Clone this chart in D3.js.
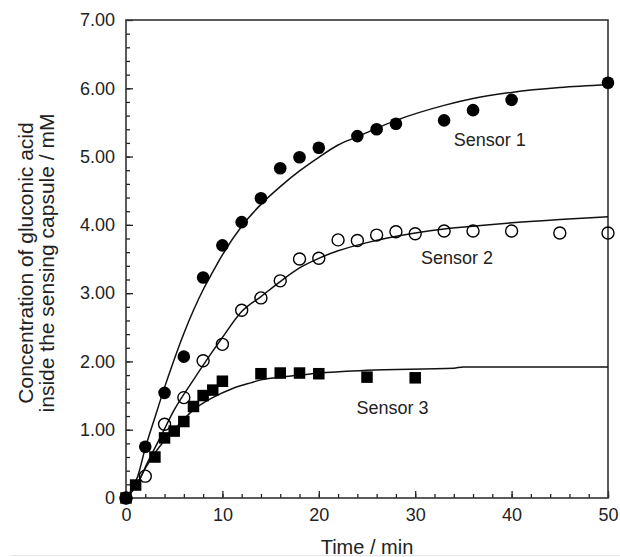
<!DOCTYPE html>
<html>
<head>
<meta charset="utf-8">
<script src="https://cdn.jsdelivr.net/npm/d3@7"></script>
<style>
  html, body { margin: 0; padding: 0; background: #fff; }
  svg { display: block; font-family: "Liberation Sans", Arial, Helvetica, sans-serif; }
</style>
</head>
<body>
<div id="wrapper"></div>
<script>
// measured points (time in min, concentration in mM)
const s1Time = [0, 2, 4, 6, 8, 10, 12, 14, 16, 18, 20, 24, 26, 28, 33, 36, 40, 50];
const s1Conc = [0, 0.75, 1.54, 2.07, 3.23, 3.70, 4.04, 4.39, 4.83, 4.99, 5.13, 5.30, 5.40, 5.48, 5.53, 5.68, 5.83, 6.08];

const s2Time = [0, 2, 4, 6, 8, 10, 12, 14, 16, 18, 20, 22, 24, 26, 28, 30, 33, 36, 40, 45, 50];
const s2Conc = [0, 0.32, 1.08, 1.47, 2.01, 2.25, 2.75, 2.93, 3.18, 3.50, 3.51, 3.78, 3.77, 3.85, 3.90, 3.87, 3.91, 3.91, 3.91, 3.88, 3.88];

const s3Time = [0, 1, 3, 4, 5, 6, 7, 8, 9, 10, 14, 16, 18, 20, 25, 30];
const s3Conc = [0, 0.19, 0.60, 0.88, 0.98, 1.12, 1.34, 1.50, 1.58, 1.71, 1.82, 1.83, 1.83, 1.82, 1.77, 1.76];

// fitted curves
const fit1Time = [0, 1.2, 2, 3, 4, 5, 6, 7, 8, 9, 10, 12, 14, 16, 18, 20, 22, 24, 28, 33, 36, 40, 45, 50];
const fit1Conc = [0, 0.31, 0.73, 1.18, 1.62, 2.03, 2.41, 2.75, 3.05, 3.31, 3.56, 3.98, 4.30, 4.56, 4.79, 4.99, 5.17, 5.29, 5.53, 5.75, 5.85, 5.94, 6.01, 6.05];

const fit2Time = [0, 1.2, 2.2, 3.6, 5, 7, 9, 10, 12, 14, 16, 18, 20, 22, 25, 30, 33, 36, 40, 45, 50];
const fit2Conc = [0, 0.21, 0.51, 0.90, 1.29, 1.73, 2.15, 2.35, 2.73, 2.95, 3.17, 3.37, 3.51, 3.62, 3.74, 3.88, 3.94, 3.98, 4.03, 4.08, 4.12];

const fit3Time = [0, 1, 1.9, 3.2, 5, 7, 9, 11, 13, 14, 16, 18, 20, 25, 34, 35, 50];
const fit3Conc = [0, 0.17, 0.41, 0.70, 1.00, 1.29, 1.47, 1.60, 1.69, 1.73, 1.77, 1.80, 1.83, 1.87, 1.90, 1.92, 1.92];

const xMajorTicks = [0, 10, 20, 30, 40, 50];
const yMajorTicks = [0, 1, 2, 3, 4, 5, 6, 7];

const sensorNames = ["Sensor 1", "Sensor 2", "Sensor 3"];
const sensorLabelTime = [34.0, 30.6, 23.9];
const sensorLabelConc = [5.15, 3.43, 1.23];

function drawChart() {
    let dimensions = {
        width: 620,
        height: 557,
        margin: { top: 20, right: 12, bottom: 59, left: 126 }
    };
    dimensions.boundedWidth = dimensions.width - dimensions.margin.left - dimensions.margin.right;
    dimensions.boundedHeight = dimensions.height - dimensions.margin.top - dimensions.margin.bottom;

    const ink = "#222";

    const svg = d3.select("#wrapper")
        .append("svg")
            .attr("width", dimensions.width)
            .attr("height", dimensions.height);

    // faint line along the bottom of the scanned figure
    svg.append("line")
        .attr("x1", 10).attr("x2", dimensions.width)
        .attr("y1", 555.5).attr("y2", 555.5)
        .attr("stroke", "#e6e6e6")
        .attr("stroke-width", 1);

    const bounds = svg.append("g")
        .attr("transform", `translate(${dimensions.margin.left},${dimensions.margin.top})`);

    const xScale = d3.scaleLinear()
        .domain([0, 50])
        .range([0, dimensions.boundedWidth]);
    const yScale = d3.scaleLinear()
        .domain([0, 7])
        .range([dimensions.boundedHeight, 0]);

    // minor ticks
    bounds.append("g")
        .attr("transform", `translate(0,${dimensions.boundedHeight})`)
        .call(d3.axisBottom(xScale).tickValues(d3.range(0, 51, 2)).tickSize(-4).tickFormat(""))
        .call(g => g.select(".domain").remove());
    bounds.append("g")
        .call(d3.axisLeft(yScale).tickValues(d3.range(0, 35, 1).map(d => d / 5)).tickSize(-4).tickFormat(""))
        .call(g => g.select(".domain").remove());

    // major ticks + labels
    const xAxis = bounds.append("g")
        .attr("transform", `translate(0,${dimensions.boundedHeight})`)
        .call(d3.axisBottom(xScale).tickValues(xMajorTicks).tickSize(-7).tickPadding(10).tickFormat(d3.format("d")));
    xAxis.select(".domain").remove();

    const yAxis = bounds.append("g")
        .call(d3.axisLeft(yScale).tickValues(yMajorTicks).tickSize(-7).tickPadding(11)
            .tickFormat(d => d === 0 ? "0" : d3.format(".2f")(d)));
    yAxis.select(".domain").remove();

    bounds.selectAll(".tick line").attr("stroke", ink).attr("stroke-width", 1.3);
    bounds.selectAll(".tick text").attr("fill", ink).style("font-size", "18px")
        .style("font-family", "'Liberation Sans', Arial, sans-serif");

    // frame
    bounds.append("rect")
        .attr("x", 0).attr("y", 0)
        .attr("width", dimensions.boundedWidth)
        .attr("height", dimensions.boundedHeight)
        .attr("fill", "none")
        .attr("stroke", "#333")
        .attr("stroke-width", 1.6);

    // fitted curves
    const line = d3.line()
        .x(d => xScale(d[0]))
        .y(d => yScale(d[1]))
        .curve(d3.curveMonotoneX);
    [[fit1Time, fit1Conc], [fit2Time, fit2Conc], [fit3Time, fit3Conc]].forEach(([ts, cs]) => {
        bounds.append("path")
            .datum(ts.map((t, i) => [t, cs[i]]))
            .attr("d", line)
            .attr("fill", "none")
            .attr("stroke", "#111")
            .attr("stroke-width", 1.5);
    });

    // sensor 1 : filled circles
    bounds.append("g").selectAll("circle")
        .data(s1Time.map((t, i) => [t, s1Conc[i]]))
        .join("circle")
            .attr("cx", d => xScale(d[0]))
            .attr("cy", d => yScale(d[1]))
            .attr("r", 6.3)
            .attr("fill", "#000");

    // sensor 2 : open circles
    bounds.append("g").selectAll("circle")
        .data(s2Time.map((t, i) => [t, s2Conc[i]]))
        .join("circle")
            .attr("cx", d => xScale(d[0]))
            .attr("cy", d => yScale(d[1]))
            .attr("r", 6)
            .attr("fill", "none")
            .attr("stroke", "#000")
            .attr("stroke-width", 1.4);

    // sensor 3 : filled squares
    const sq = 11.5;
    bounds.append("g").selectAll("rect")
        .data(s3Time.map((t, i) => [t, s3Conc[i]]))
        .join("rect")
            .attr("x", d => xScale(d[0]) - sq / 2)
            .attr("y", d => yScale(d[1]) - sq / 2)
            .attr("width", sq)
            .attr("height", sq)
            .attr("fill", "#000");

    // sensor labels
    bounds.append("g").selectAll("text")
        .data(sensorNames)
        .join("text")
            .attr("x", (d, i) => xScale(sensorLabelTime[i]))
            .attr("y", (d, i) => yScale(sensorLabelConc[i]))
            .attr("fill", ink)
            .style("font-size", "18px")
            .text(d => d);

    // axis titles
    svg.append("text")
        .attr("x", dimensions.margin.left + dimensions.boundedWidth / 2)
        .attr("y", 554)
        .attr("text-anchor", "middle")
        .attr("fill", ink)
        .style("font-size", "20px")
        .text("Time / min");

    const yTitle = svg.append("text")
        .attr("transform", "translate(33,263) rotate(-90)")
        .attr("text-anchor", "middle")
        .attr("fill", ink)
        .style("font-size", "21px");
    yTitle.append("tspan").attr("x", 0).attr("y", 0).text("Concentration of gluconic acid");
    yTitle.append("tspan").attr("x", 0).attr("y", 21).text("inside the sensing capsule / mM");
}

drawChart();
</script>
</body>
</html>
